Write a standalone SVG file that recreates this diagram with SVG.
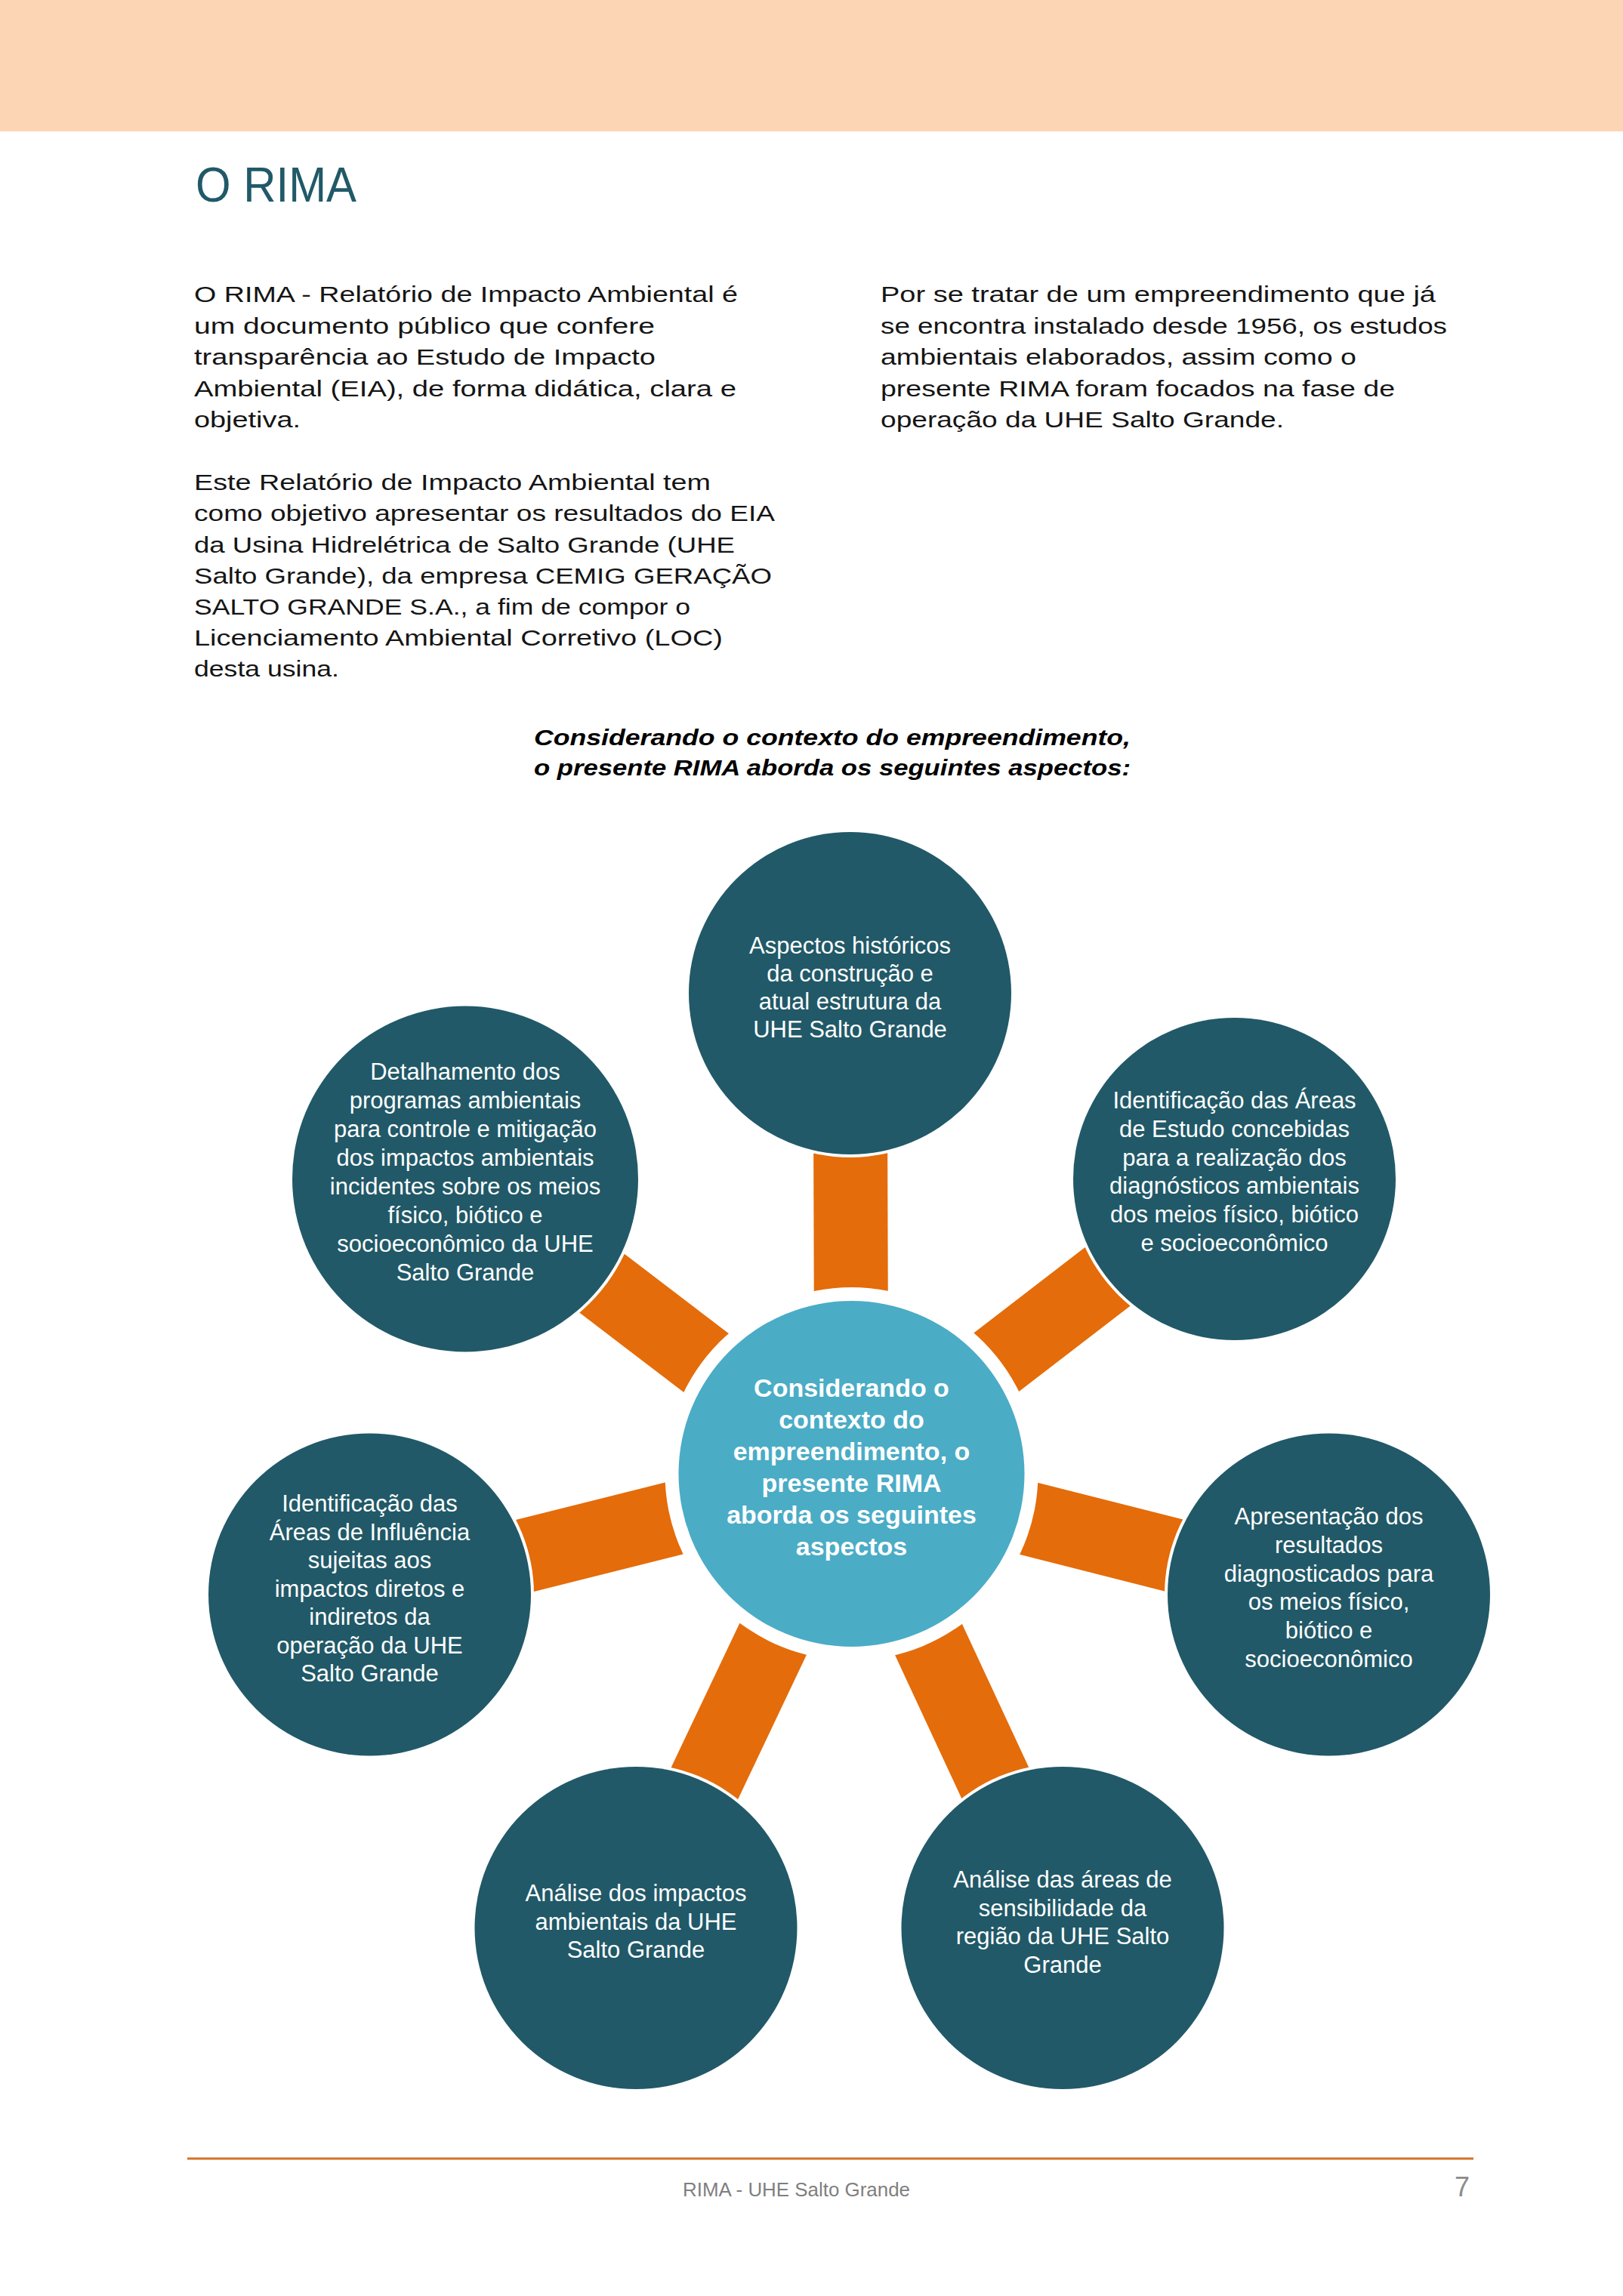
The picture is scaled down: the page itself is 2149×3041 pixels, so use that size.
<svg xmlns="http://www.w3.org/2000/svg" width="2149" height="3041" viewBox="0 0 2149 3041">
<style>
.body{font-family:"Liberation Sans",Arial,sans-serif;font-size:29px;fill:#151515}
.sub{font-family:"Liberation Sans",Arial,sans-serif;font-size:29px;font-weight:bold;font-style:italic;fill:#000000}
.node{fill:#215968}
.halo{fill:#ffffff}
.nt{font-family:"Liberation Sans",Arial,sans-serif;font-size:31px;fill:#ffffff;text-anchor:middle}
.ct{font-family:"Liberation Sans",Arial,sans-serif;font-size:34px;font-weight:bold;fill:#ffffff;text-anchor:middle}
.conn{stroke:#E46C0A;stroke-width:98;stroke-linecap:butt}
</style>
<rect x="0" y="0" width="2149" height="3041" fill="#ffffff"/>
<rect x="0" y="0" width="2149" height="174" fill="#FCD5B5"/>
<text x="259" y="267" font-family="Liberation Sans,Arial,sans-serif" font-size="65" fill="#215968" textLength="213" lengthAdjust="spacingAndGlyphs">O RIMA</text>

<g id="intro-left" class="body">
<text x="257" y="400" textLength="720" lengthAdjust="spacingAndGlyphs">O RIMA - Relatório de Impacto Ambiental é</text>
<text x="257" y="441.5" textLength="610" lengthAdjust="spacingAndGlyphs">um documento público que confere</text>
<text x="257" y="483" textLength="611" lengthAdjust="spacingAndGlyphs">transparência ao Estudo de Impacto</text>
<text x="257" y="524.5" textLength="718" lengthAdjust="spacingAndGlyphs">Ambiental (EIA), de forma didática, clara e</text>
<text x="257" y="566" textLength="141" lengthAdjust="spacingAndGlyphs">objetiva.</text>
<text x="257" y="649" textLength="684" lengthAdjust="spacingAndGlyphs">Este Relatório de Impacto Ambiental tem</text>
<text x="257" y="690" textLength="769" lengthAdjust="spacingAndGlyphs">como objetivo apresentar os resultados do EIA</text>
<text x="257" y="731.5" textLength="716" lengthAdjust="spacingAndGlyphs">da Usina Hidrelétrica de Salto Grande (UHE</text>
<text x="257" y="772.5" textLength="765" lengthAdjust="spacingAndGlyphs">Salto Grande), da empresa CEMIG GERAÇÃO</text>
<text x="257" y="813.5" textLength="657" lengthAdjust="spacingAndGlyphs">SALTO GRANDE S.A., a fim de compor o</text>
<text x="257" y="855" textLength="700" lengthAdjust="spacingAndGlyphs">Licenciamento Ambiental Corretivo (LOC)</text>
<text x="257" y="896" textLength="192" lengthAdjust="spacingAndGlyphs">desta usina.</text>
</g>

<g id="intro-right" class="body">
<text x="1166" y="400" textLength="735" lengthAdjust="spacingAndGlyphs">Por se tratar de um empreendimento que já</text>
<text x="1166" y="441.5" textLength="750" lengthAdjust="spacingAndGlyphs">se encontra instalado desde 1956, os estudos</text>
<text x="1166" y="483" textLength="630" lengthAdjust="spacingAndGlyphs">ambientais elaborados, assim como o</text>
<text x="1166" y="524.5" textLength="681" lengthAdjust="spacingAndGlyphs">presente RIMA foram focados na fase de</text>
<text x="1166" y="566" textLength="534" lengthAdjust="spacingAndGlyphs">operação da UHE Salto Grande.</text>
</g>

<g id="subtitle" class="sub">
<text x="707" y="987" textLength="790" lengthAdjust="spacingAndGlyphs">Considerando o contexto do empreendimento,</text>
<text x="707" y="1027" textLength="790" lengthAdjust="spacingAndGlyphs">o presente RIMA aborda os seguintes aspectos:</text>
</g>

<g id="connectors">
<line class="conn" x1="1127.5" y1="1952" x2="1125.5" y2="1315.5"/>
<line class="conn" x1="1127.5" y1="1952" x2="1634.5" y2="1561.5"/>
<line class="conn" x1="1127.5" y1="1952" x2="1759.5" y2="2112"/>
<line class="conn" x1="1127.5" y1="1952" x2="1407" y2="2553.5"/>
<line class="conn" x1="1127.5" y1="1952" x2="842" y2="2553.5"/>
<line class="conn" x1="1127.5" y1="1952" x2="489.5" y2="2112"/>
<line class="conn" x1="1127.5" y1="1952" x2="616" y2="1561.5"/>
</g>

<g id="node-center">
<circle class="halo" cx="1127.5" cy="1952" r="247"/>
<circle cx="1127.5" cy="1952" r="229" fill="#4BACC6"/>
<text class="ct" x="1127.5" y="1850">Considerando o</text>
<text class="ct" x="1127.5" y="1892">contexto do</text>
<text class="ct" x="1127.5" y="1934">empreendimento, o</text>
<text class="ct" x="1127.5" y="1976">presente RIMA</text>
<text class="ct" x="1127.5" y="2018">aborda os seguintes</text>
<text class="ct" x="1127.5" y="2060">aspectos</text>
</g>

<g id="node-top">
<circle class="halo" cx="1125.5" cy="1315.5" r="217.5"/>
<circle class="node" cx="1125.5" cy="1315.5" r="213.5"/>
<text class="nt" x="1125.5" y="1262.7">Aspectos históricos</text>
<text class="nt" x="1125.5" y="1299.7">da construção e</text>
<text class="nt" x="1125.5" y="1336.7">atual estrutura da</text>
<text class="nt" x="1125.5" y="1373.7">UHE Salto Grande</text>
</g>

<g id="node-upper-right">
<circle class="halo" cx="1634.5" cy="1561.5" r="217.5"/>
<circle class="node" cx="1634.5" cy="1561.5" r="213.5"/>
<text class="nt" x="1634.5" y="1468">Identificação das Áreas</text>
<text class="nt" x="1634.5" y="1506">de Estudo concebidas</text>
<text class="nt" x="1634.5" y="1543.5">para a realização dos</text>
<text class="nt" x="1634.5" y="1581">diagnósticos ambientais</text>
<text class="nt" x="1634.5" y="1619">dos meios físico, biótico</text>
<text class="nt" x="1634.5" y="1657">e socioeconômico</text>
</g>

<g id="node-right">
<circle class="halo" cx="1759.5" cy="2112" r="217.5"/>
<circle class="node" cx="1759.5" cy="2112" r="213.5"/>
<text class="nt" x="1759.5" y="2019">Apresentação dos</text>
<text class="nt" x="1759.5" y="2057">resultados</text>
<text class="nt" x="1759.5" y="2095">diagnosticados para</text>
<text class="nt" x="1759.5" y="2132">os meios físico,</text>
<text class="nt" x="1759.5" y="2170">biótico e</text>
<text class="nt" x="1759.5" y="2208">socioeconômico</text>
</g>

<g id="node-bottom-right">
<circle class="halo" cx="1407" cy="2553.5" r="217.5"/>
<circle class="node" cx="1407" cy="2553.5" r="213.5"/>
<text class="nt" x="1407" y="2500">Análise das áreas de</text>
<text class="nt" x="1407" y="2537.7">sensibilidade da</text>
<text class="nt" x="1407" y="2575.3">região da UHE Salto</text>
<text class="nt" x="1407" y="2613">Grande</text>
</g>

<g id="node-bottom-left">
<circle class="halo" cx="842" cy="2553.5" r="217.5"/>
<circle class="node" cx="842" cy="2553.5" r="213.5"/>
<text class="nt" x="842" y="2518">Análise dos impactos</text>
<text class="nt" x="842" y="2555.5">ambientais da UHE</text>
<text class="nt" x="842" y="2593">Salto Grande</text>
</g>

<g id="node-left">
<circle class="halo" cx="489.5" cy="2112" r="217.5"/>
<circle class="node" cx="489.5" cy="2112" r="213.5"/>
<text class="nt" x="489.5" y="2002">Identificação das</text>
<text class="nt" x="489.5" y="2039.5">Áreas de Influência</text>
<text class="nt" x="489.5" y="2077">sujeitas aos</text>
<text class="nt" x="489.5" y="2114.5">impactos diretos e</text>
<text class="nt" x="489.5" y="2152">indiretos da</text>
<text class="nt" x="489.5" y="2189.5">operação da UHE</text>
<text class="nt" x="489.5" y="2227">Salto Grande</text>
</g>

<g id="node-upper-left">
<circle class="halo" cx="616" cy="1561.5" r="233"/>
<circle class="node" cx="616" cy="1561.5" r="229"/>
<text class="nt" x="616" y="1430">Detalhamento dos</text>
<text class="nt" x="616" y="1468">programas ambientais</text>
<text class="nt" x="616" y="1506">para controle e mitigação</text>
<text class="nt" x="616" y="1544">dos impactos ambientais</text>
<text class="nt" x="616" y="1582">incidentes sobre os meios</text>
<text class="nt" x="616" y="1620">físico, biótico e</text>
<text class="nt" x="616" y="1658">socioeconômico da UHE</text>
<text class="nt" x="616" y="1696">Salto Grande</text>
</g>

<g id="footer">
<line x1="248" y1="2859" x2="1951" y2="2859" stroke="#D4732A" stroke-width="3"/>
<text x="904" y="2909" font-family="Liberation Sans,Arial,sans-serif" font-size="25" fill="#7F7F7F" textLength="301" lengthAdjust="spacingAndGlyphs">RIMA - UHE Salto Grande</text>
<text x="1946" y="2909" font-family="Liberation Sans,Arial,sans-serif" font-size="36" fill="#8C8C8C" text-anchor="end">7</text>
</g>
</svg>
